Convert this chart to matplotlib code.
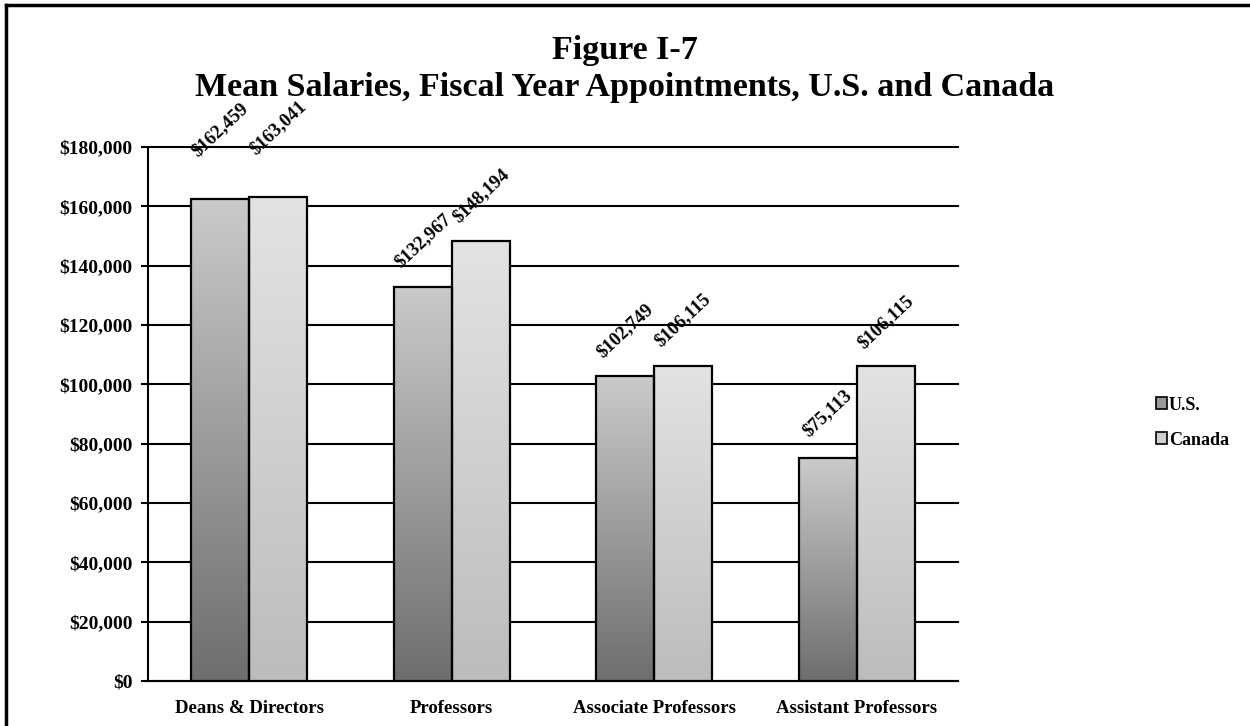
import numpy as np
import matplotlib
matplotlib.use("Agg")
import matplotlib.pyplot as plt
from matplotlib.colors import LinearSegmentedColormap
from matplotlib.patches import Rectangle
from matplotlib.lines import Line2D

categories = ["Deans & Directors", "Professors", "Associate Professors", "Assistant Professors"]
us = [162459, 132967, 102749, 75113]
canada = [163041, 148194, 106115, 106115]
series_names = ["U.S.", "Canada"]
yticks = list(range(0, 180001, 20000))

plt.rcParams['font.family'] = ['Liberation Serif', 'DejaVu Serif']

fig = plt.figure(figsize=(12.5, 7.26), dpi=100)
ax = fig.add_axes([0.1184, 0.062, 0.648, 0.7355])

cmap_us = LinearSegmentedColormap.from_list("us", ["#6e6e6e", "#cacaca"])
cmap_ca = LinearSegmentedColormap.from_list("ca", ["#bcbcbc", "#e3e3e3"])
grad = np.linspace(0, 1, 256).reshape(-1, 1)

w = 0.286
x = np.arange(len(categories))
label_off = [50, 33, 33, 32]

for vals, dx, cmap in [(us, -w / 2, cmap_us), (canada, w / 2, cmap_ca)]:
    bars = ax.bar(x + dx, vals, width=w, facecolor="none", edgecolor="black",
                  linewidth=1.6, zorder=4)
    for i, b in enumerate(bars):
        x0, x1 = b.get_x(), b.get_x() + b.get_width()
        ax.imshow(grad, cmap=cmap, origin="lower", aspect="auto",
                  extent=[x0, x1, 0, b.get_height()], zorder=3)
        ax.annotate("${:,}".format(vals[i]), (b.get_x() + b.get_width() / 2, b.get_height()),
                    xytext=(0, label_off[i]), textcoords="offset points",
                    ha="center", va="center", rotation=43, fontsize=13.5,
                    fontweight="bold", zorder=5, annotation_clip=False)

ax.set_xlim(-0.5, len(categories) - 0.5)
ax.set_ylim(0, 180000)
ax.set_yticks(yticks)
ax.set_yticklabels(["${:,}".format(v) for v in yticks], fontsize=14, fontweight="bold")
ax.set_xticks(x)
ax.set_xticklabels(categories, fontsize=13.5, fontweight="bold")
ax.tick_params(axis="x", length=0, pad=14)
ax.tick_params(axis="y", length=5, width=1.5, pad=6)
ax.grid(axis="y", color="black", linewidth=1.5, zorder=1)
for gl in ax.get_ygridlines():
    gl.set_clip_on(False)
ax.set_axisbelow(True)
for s in ["top", "right"]:
    ax.spines[s].set_visible(False)
for s in ["left", "bottom"]:
    ax.spines[s].set_linewidth(1.5)

fig.text(0.5, 0.93, "Figure I-7", ha="center", va="center", fontsize=24.5, fontweight="bold")
fig.text(0.5, 0.879, "Mean Salaries, Fiscal Year Appointments, U.S. and Canada",
         ha="center", va="center", fontsize=24.5, fontweight="bold")

handles = [Rectangle((0, 0), 1, 1, facecolor="#9a9a9a", edgecolor="black", linewidth=1.2),
           Rectangle((0, 0), 1, 1, facecolor="#d0d0d0", edgecolor="black", linewidth=1.2)]
leg = fig.legend(handles, series_names, loc="center left", bbox_to_anchor=(0.912, 0.418),
                 frameon=False, prop={"size": 13, "weight": "bold"},
                 handlelength=0.6, handleheight=0.6, handletextpad=0.1, labelspacing=1.0)

fig.add_artist(Line2D([0.005, 0.005], [0.0, 0.993], transform=fig.transFigure,
                      color="black", linewidth=2.5))
fig.add_artist(Line2D([0.005, 1.0], [0.993, 0.993], transform=fig.transFigure,
                      color="black", linewidth=2.5))

fig.savefig("out.png", dpi=100)
plt.close()
